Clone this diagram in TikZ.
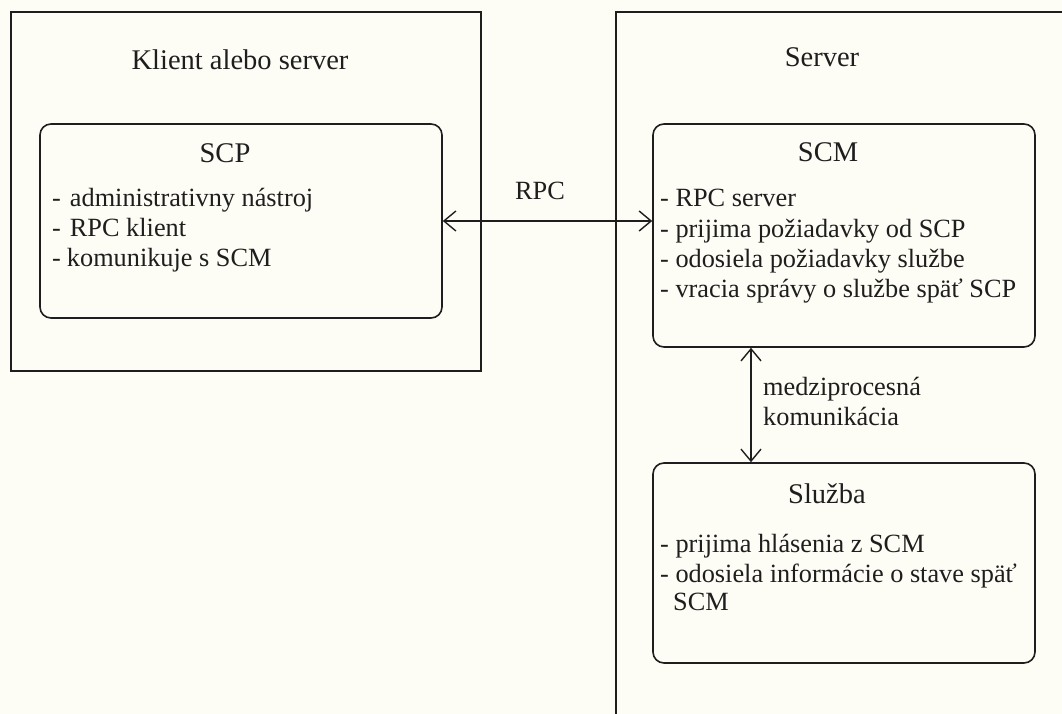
\documentclass[tikz,border=0pt]{standalone}
\usepackage{fontspec}
\setmainfont{Liberation Serif}
\usetikzlibrary{arrows.meta}
\definecolor{bg}{RGB}{253,253,245}
\definecolor{ink}{RGB}{30,30,30}
\begin{document}
\begin{tikzpicture}[x=1pt,y=-1pt,
  outerbox/.style={draw=ink,line width=1.8pt,rectangle,inner sep=0pt},
  innerbox/.style={draw=ink,line width=1.6pt,rectangle,rounded corners=11pt,inner sep=0pt},
  title/.style={anchor=base,inner sep=0pt,font=\fontsize{28.5}{32}\selectfont,text=ink},
  item/.style={anchor=base west,inner sep=0pt,font=\fontsize{26.3}{30}\selectfont,text=ink},
  conn/.style={draw=ink,line width=1.4pt,{Straight Barb[length=12pt,width=20pt]}-{Straight Barb[length=12pt,width=20pt]}}]
\useasboundingbox (0,0) rectangle (1062,714);
\fill[bg] (0,0) rectangle (1062,714);
\clip (0,0) rectangle (1062,714);
% containers
\node[outerbox,minimum width=470pt,minimum height=359pt] (client) at (246,191.5) {};
\node[outerbox,minimum width=484pt,minimum height=748pt] (server) at (858,386) {};
\node[innerbox,minimum width=402pt,minimum height=194pt] (scp) at (241,221) {};
\node[innerbox,minimum width=382pt,minimum height=223pt] (scm) at (844,235.5) {};
\node[innerbox,minimum width=382pt,minimum height=200pt] (sl) at (844,563) {};
% titles
\node[title] (tclient) at (240,70) {Klient alebo server};
\node[title] (tserver) at (822,67) {Server};
\node[title] (tscp) at (225,163) {SCP};
\node[title] (tscm) at (828,162) {SCM};
\node[title] (tsl) at (827,503) {Služba};
% SCP items
\node[item] (scp1) at (52,207) {-\hspace{9pt}administrativny nástroj};
\node[item] (scp2) at (52,236) {-\hspace{9pt}RPC klient};
\node[item] (scp3) at (52,266) {-\hspace{6pt}komunikuje s SCM};
% SCM items
\node[item] (scm1) at (660,207) {- RPC server};
\node[item] (scm2) at (660,237) {- prijima požiadavky od SCP};
\node[item] (scm3) at (660,267) {- odosiela požiadavky službe};
\node[item] (scm4) at (660,297) {- vracia správy o službe späť SCP};
% Sluzba items
\node[item] (sl1) at (660,552) {- prijima hlásenia z SCM};
\node[item] (sl2) at (660,582) {- odosiela informácie o stave späť};
\node[item] (sl3) at (673,610) {SCM};
% connectors
\draw[conn] (scp.east) -- (scm.west |- scp.east);
\node[title,font=\fontsize{26.3}{30}\selectfont] (rpc) at (540,200) {RPC};
\coordinate (vx) at (751,0);
\draw[conn] (scm.south -| vx) -- (sl.north -| vx);
\node[item] (ipc1) at (763,395) {medziprocesná};
\node[item] (ipc2) at (763,425) {komunikácia};
\end{tikzpicture}
\end{document}
